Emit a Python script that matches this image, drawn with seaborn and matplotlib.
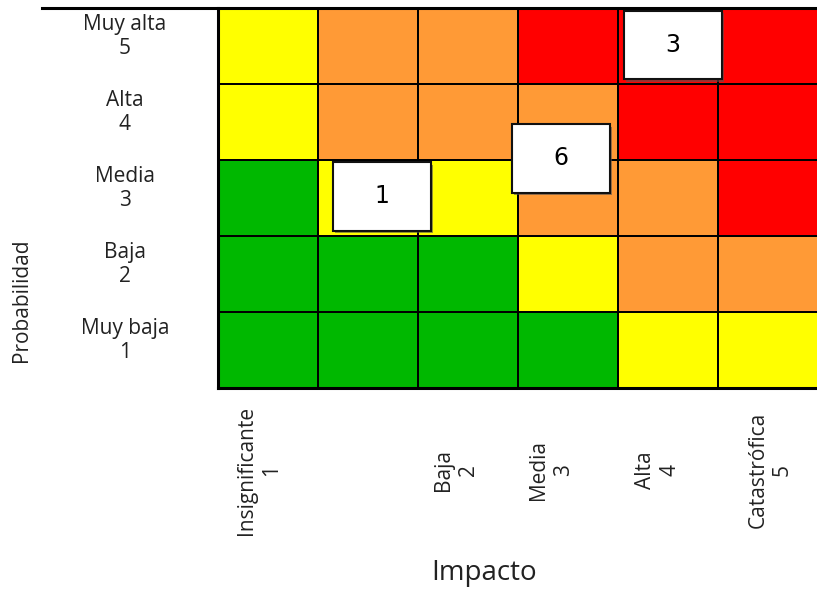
import numpy as np
import pandas as pd
import matplotlib
matplotlib.use("Agg")
import matplotlib.pyplot as plt
from matplotlib.colors import ListedColormap
from matplotlib.patches import Rectangle
import seaborn as sns

# risk level per cell: 0 = bajo (verde), 1 = medio (amarillo), 2 = alto (naranja), 3 = extremo (rojo)
prob_labels = ["Muy alta\n5", "Alta\n4", "Media\n3", "Baja\n2", "Muy baja\n1"]
impact_labels = ["Insignificante\n1", "Baja\n2", "Media\n3", "Alta\n4", "Catastrófica\n5"]
risk_levels = [
    [1, 2, 2, 3, 3, 3],
    [1, 2, 2, 2, 3, 3],
    [0, 1, 1, 2, 2, 3],
    [0, 0, 0, 1, 2, 2],
    [0, 0, 0, 0, 1, 1],
]
box_counts = [1, 6, 3]

# layout (heatmap cell units)
impact_tick_pos = [0.41, 2.38, 3.33, 4.40, 5.52]
prob_tick_pos = np.arange(5) + 0.38
box_xy = [(1.15, 2.03), (2.94, 1.53), (4.06, 0.04)]
box_w, box_h = 0.98, 0.90

level_colors = ["#00b800", "#ffff00", "#ff9a36", "#ff0000"]
font = "Open Sans"
txt_color = "#222222"

df = pd.DataFrame(risk_levels, index=prob_labels)

fig = plt.figure(figsize=(8.17, 5.90), dpi=100)
ax = fig.add_axes([218 / 817, 202 / 590, 600 / 817, 380 / 590])

sns.heatmap(df, ax=ax, cmap=ListedColormap(level_colors), vmin=-0.5, vmax=3.5,
            cbar=False, linewidths=1.2, linecolor="black", square=False)

for (bx, by), n in zip(box_xy, box_counts):
    ax.add_patch(Rectangle((bx + 0.02, by + 0.03), box_w, box_h, facecolor="#555555",
                           edgecolor="none", alpha=0.6, zorder=3))
    ax.add_patch(Rectangle((bx, by), box_w, box_h, facecolor="white",
                           edgecolor="#111111", linewidth=1.5, zorder=4))
    ax.text(bx + box_w / 2, by + box_h / 2, str(n), ha="center", va="center",
            fontsize=17, color="black", zorder=5)

ax.set_xticks(impact_tick_pos)
ax.set_xticklabels(impact_labels, rotation=90, ha="center", va="center",
                   fontsize=15, family=font, color=txt_color)
ax.set_yticks(prob_tick_pos)
ax.set_yticklabels(prob_labels, rotation=0, ha="center", va="center",
                   fontsize=15, family=font, color=txt_color)
ax.tick_params(axis="x", length=0, pad=59)
ax.tick_params(axis="y", length=0, pad=67)
ax.set_xlabel("")
ax.set_ylabel("")

for side in ["left", "bottom"]:
    ax.spines[side].set_visible(True)
    ax.spines[side].set_linewidth(2.2)
    ax.spines[side].set_color("black")

# top rule across the chart
fig.add_artist(plt.Line2D([42 / 817, 1.0], [1 - 8 / 590, 1 - 8 / 590],
                          color="black", linewidth=2.2))

fig.text(22 / 817, 1 - 300 / 590, "Probabilidad", rotation=90, ha="center", va="center",
         fontsize=15, family=font, color=txt_color)
fig.text(484 / 817, 1 - 573 / 590, "Impacto", ha="center", va="center",
         fontsize=20, family=font, color=txt_color)

fig.savefig("out.png", dpi=100)
